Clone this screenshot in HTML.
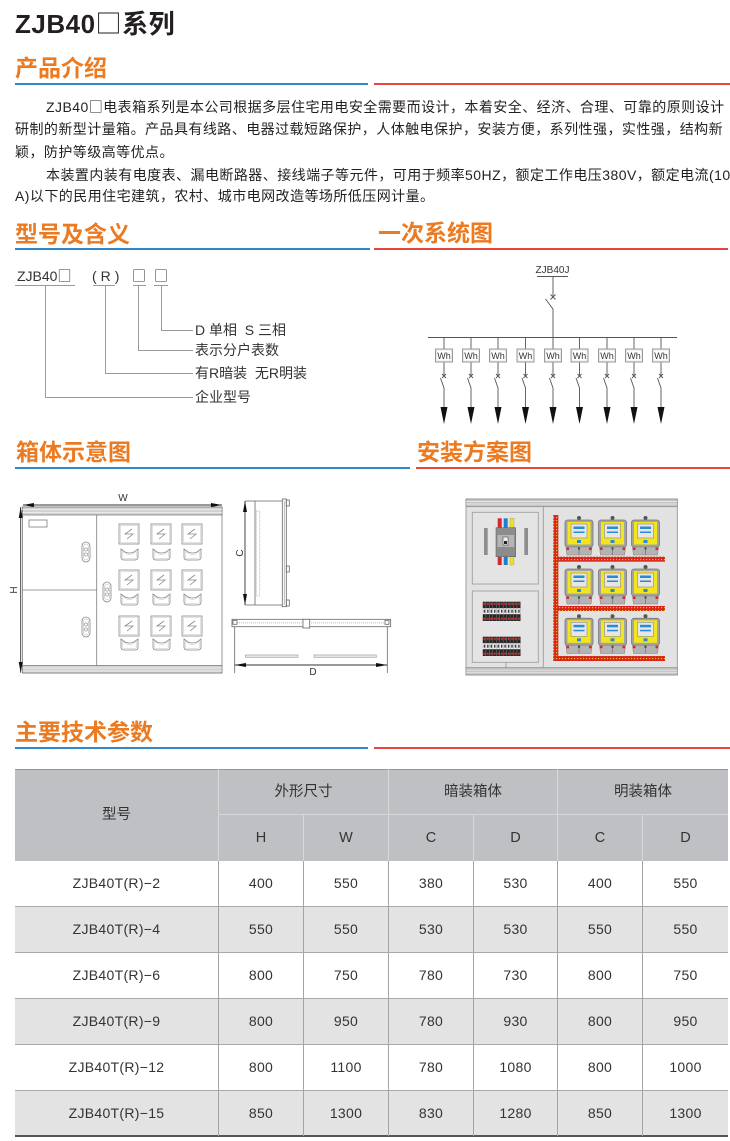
<!DOCTYPE html>
<html><head><meta charset="utf-8">
<style>
html,body{margin:0;padding:0;background:#fff;}
body{width:730px;height:1141px;position:relative;overflow:hidden;font-family:"Liberation Sans","Noto Sans CJK SC",sans-serif;color:#231f20;}
.a{position:absolute;white-space:nowrap;}
.bx{font-family:"Noto Sans CJK SC",sans-serif;font-weight:normal;}
.h{position:absolute;font-size:23px;font-weight:bold;color:#ec7a21;line-height:30px;white-space:nowrap;font-family:"Liberation Sans","Noto Sans CJK SC",sans-serif;}
.p{position:absolute;font-size:14px;letter-spacing:0.45px;line-height:22px;color:#231f20;white-space:nowrap;}
.ln{position:absolute;height:2px;}
.bl{background:#2f86c8;}
.rd{background:#e6453b;}
.m{position:absolute;font-size:14px;line-height:18px;color:#333;white-space:pre;}
.row{position:absolute;left:15px;width:713px;height:46px;display:flex;font-size:14px;line-height:45px;color:#333;letter-spacing:0.3px;box-sizing:border-box;border-bottom:1px solid #a8a8a8;}
.row span{display:block;text-align:center;border-right:1px solid #a4a4a4;box-sizing:border-box;height:45px;}
.row span:last-child{border-right:none;}
.g{background:#e3e3e3;}
.hd{position:absolute;text-align:center;font-size:14.5px;color:#333;box-sizing:border-box;}
</style></head><body>

<div class="a" style="left:15px;top:6px;font-size:26px;font-weight:bold;line-height:34px;letter-spacing:0.5px;">ZJB40<span class="bx">□</span>系列</div>

<div class="h" style="left:15px;top:53px;">产品介绍</div>
<div class="ln bl" style="left:15px;top:83px;width:353px;"></div>
<div class="ln rd" style="left:374px;top:83px;width:356px;"></div>

<div class="p" style="left:46px;top:96px;">ZJB40<span class="bx">□</span>电表箱系列是本公司根据多层住宅用电安全需要而设计，本着安全、经济、合理、可靠的原则设计</div>
<div class="p" style="left:15px;top:118px;">研制的新型计量箱。产品具有线路、电器过载短路保护，人体触电保护，安装方便，系列性强，实性强，结构新</div>
<div class="p" style="left:15px;top:141px;">颖，防护等级高等优点。</div>
<div class="p" style="left:46px;top:164px;">本装置内装有电度表、漏电断路器、接线端子等元件，可用于频率50HZ，额定工作电压380V，额定电流(100</div>
<div class="p" style="left:15px;top:185px;">A)以下的民用住宅建筑，农村、城市电网改造等场所低压网计量。</div>

<div class="h" style="left:15px;top:219px;">型号及含义</div>
<div class="ln bl" style="left:15px;top:248px;width:355px;"></div>
<div class="h" style="left:378px;top:218px;">一次系统图</div>
<div class="ln rd" style="left:374px;top:248px;width:354px;"></div>

<div class="m" style="left:17px;top:267px;">ZJB40<span class="bx">□</span></div>
<div class="m" style="left:92px;top:267px;letter-spacing:4px;">(R)</div>
<div class="m bx" style="left:132px;top:267px;">□</div>
<div class="m bx" style="left:154px;top:267px;">□</div>
<div class="m" style="left:195px;top:321px;">D 单相  S 三相</div>
<div class="m" style="left:195px;top:341px;">表示分户表数</div>
<div class="m" style="left:195px;top:364px;">有R暗装  无R明装</div>
<div class="m" style="left:195px;top:388px;">企业型号</div>

<div class="h" style="left:16px;top:437px;">箱体示意图</div>
<div class="ln bl" style="left:15px;top:467px;width:395px;"></div>
<div class="h" style="left:417px;top:437px;">安装方案图</div>
<div class="ln rd" style="left:416px;top:467px;width:314px;"></div>

<div class="h" style="left:15px;top:717px;">主要技术参数</div>
<div class="ln bl" style="left:15px;top:747px;width:353px;"></div>
<div class="ln rd" style="left:374px;top:747px;width:356px;"></div>

<svg class="a" style="left:0;top:0;" width="730" height="1141" viewBox="0 0 730 1141">
<defs>
 <pattern id="bus" width="3" height="3" patternUnits="userSpaceOnUse">
  <rect width="3" height="3" fill="#d8241c"/>
  <rect x="1" y="1" width="1.2" height="1.2" fill="#e9c22a"/>
 </pattern>
 <pattern id="brk" width="3.45" height="19.3" patternUnits="userSpaceOnUse">
  <rect width="3.45" height="19.3" fill="#262626"/>
  <rect x="0" y="6.5" width="3.45" height="6" fill="#f2f2f2"/>
  <rect x="1" y="8" width="1.4" height="3" fill="#333"/>
  <rect x="0.8" y="1.2" width="1.8" height="2" fill="#d33"/>
  <rect x="0.8" y="16" width="1.8" height="2" fill="#d33"/>
  <rect x="3" y="0" width="0.45" height="19.3" fill="#888"/>
 </pattern>
 <g id="mt">
  <circle cx="14" cy="-2" r="2" fill="#555"/>
  <rect x="0" y="0" width="28" height="27" rx="2.5" fill="#a4a4a4" stroke="#777" stroke-width="0.8"/>
  <rect x="2.5" y="2" width="23" height="22.5" fill="#f4e41a"/>
  <rect x="6" y="4" width="16" height="14" fill="#e6e6e6" stroke="#8a8a8a" stroke-width="0.6"/>
  <rect x="8.5" y="6.5" width="11" height="2.5" fill="#2a8ad6"/>
  <rect x="8.5" y="11.5" width="11" height="1.5" fill="#2a8ad6"/>
  <rect x="12" y="20" width="4" height="3" fill="#2a8ad6"/>
  <path d="M1 27H27L26 35H2Z" fill="#b3b3b3" stroke="#868686" stroke-width="0.6"/>
  <path d="M14 27V35" stroke="#777" stroke-width="0.8"/>
  <rect x="1.5" y="27.5" width="2.5" height="2.5" fill="#d8262a"/>
  <rect x="24" y="27.5" width="2.5" height="2.5" fill="#d8262a"/>
  <rect x="13" y="27.5" width="2" height="2" fill="#444"/>
 </g>
 <g id="win">
  <rect x="0" y="0" width="20" height="20" fill="#fff" stroke="#888" stroke-width="0.8"/>
  <rect x="1.5" y="1.5" width="17" height="17" fill="none" stroke="#c4c4c4" stroke-width="0.5"/>
  <path d="M13 5L6 10H14L8 15" fill="none" stroke="#888" stroke-width="0.8"/>
 </g>
 <g id="cup">
  <path d="M0 0L4 3Q8.5 5 13 3L17 0V8Q17 11 14 11H3Q0 11 0 8Z" fill="#fff" stroke="#888" stroke-width="0.8"/>
  <path d="M1.5 2.5L4.5 4.5Q8.5 6.5 12.5 4.5L15.5 2.5V8Q15.5 9.6 13.5 9.6H3.5Q1.5 9.6 1.5 8Z" fill="none" stroke="#c4c4c4" stroke-width="0.5"/>
 </g>
 <g id="hdl">
  <rect x="0" y="0" width="8" height="20" rx="4" fill="#fff" stroke="#888" stroke-width="0.8"/>
  <rect x="1.6" y="2" width="4.8" height="16" rx="2.4" fill="none" stroke="#aaa" stroke-width="0.5"/>
  <circle cx="4" cy="7.5" r="1.6" fill="none" stroke="#888" stroke-width="0.6"/>
  <circle cx="4" cy="12.5" r="1.6" fill="none" stroke="#888" stroke-width="0.6"/>
 </g>
</defs>

<g stroke="#9a9a9a" stroke-width="1" fill="none">
 <path d="M15 285.5H75M93 285.5H115M133 285.5H146M154 285.5H168"/>
 <path d="M45.5 285.5V397.5H193M105.5 285.5V373.5H193M138.5 285.5V350.5H193M161.5 285.5V330.5H193"/>
</g>

<text x="552.5" y="273" font-size="10" text-anchor="middle" fill="#333" font-family="Liberation Sans, sans-serif">ZJB40J</text>
<g stroke="#555" stroke-width="0.9" fill="none">
 <path d="M537 276.5H568"/>
 <path d="M553 276.5V297M550.5 294.5L555.5 299.5M555.5 294.5L550.5 299.5M545.5 299L553 309V337.5"/>
 <path d="M428 337.5H677"/>
</g>
<g font-family="Liberation Sans, sans-serif" font-size="9" text-anchor="middle" fill="#333">
 <g transform="translate(444,0)"><path d="M0 337.5V349M0 362V376M-2 374L2 378M2 374L-2 378M-3.5 378L0 388V407" stroke="#555" stroke-width="0.9" fill="none"/><rect x="-8.5" y="349" width="17" height="13" fill="#fff" stroke="#999"/><rect x="-7.5" y="350" width="15" height="11" fill="none" stroke="#ddd" stroke-width="0.6"/><text x="0" y="359">Wh</text><path d="M-3.5 407H3.5L0 424Z" fill="#111"/></g>
 <g transform="translate(471,0)"><path d="M0 337.5V349M0 362V376M-2 374L2 378M2 374L-2 378M-3.5 378L0 388V407" stroke="#555" stroke-width="0.9" fill="none"/><rect x="-8.5" y="349" width="17" height="13" fill="#fff" stroke="#999"/><rect x="-7.5" y="350" width="15" height="11" fill="none" stroke="#ddd" stroke-width="0.6"/><text x="0" y="359">Wh</text><path d="M-3.5 407H3.5L0 424Z" fill="#111"/></g>
 <g transform="translate(498,0)"><path d="M0 337.5V349M0 362V376M-2 374L2 378M2 374L-2 378M-3.5 378L0 388V407" stroke="#555" stroke-width="0.9" fill="none"/><rect x="-8.5" y="349" width="17" height="13" fill="#fff" stroke="#999"/><rect x="-7.5" y="350" width="15" height="11" fill="none" stroke="#ddd" stroke-width="0.6"/><text x="0" y="359">Wh</text><path d="M-3.5 407H3.5L0 424Z" fill="#111"/></g>
 <g transform="translate(525.5,0)"><path d="M0 337.5V349M0 362V376M-2 374L2 378M2 374L-2 378M-3.5 378L0 388V407" stroke="#555" stroke-width="0.9" fill="none"/><rect x="-8.5" y="349" width="17" height="13" fill="#fff" stroke="#999"/><rect x="-7.5" y="350" width="15" height="11" fill="none" stroke="#ddd" stroke-width="0.6"/><text x="0" y="359">Wh</text><path d="M-3.5 407H3.5L0 424Z" fill="#111"/></g>
 <g transform="translate(553,0)"><path d="M0 337.5V349M0 362V376M-2 374L2 378M2 374L-2 378M-3.5 378L0 388V407" stroke="#555" stroke-width="0.9" fill="none"/><rect x="-8.5" y="349" width="17" height="13" fill="#fff" stroke="#999"/><rect x="-7.5" y="350" width="15" height="11" fill="none" stroke="#ddd" stroke-width="0.6"/><text x="0" y="359">Wh</text><path d="M-3.5 407H3.5L0 424Z" fill="#111"/></g>
 <g transform="translate(579.5,0)"><path d="M0 337.5V349M0 362V376M-2 374L2 378M2 374L-2 378M-3.5 378L0 388V407" stroke="#555" stroke-width="0.9" fill="none"/><rect x="-8.5" y="349" width="17" height="13" fill="#fff" stroke="#999"/><rect x="-7.5" y="350" width="15" height="11" fill="none" stroke="#ddd" stroke-width="0.6"/><text x="0" y="359">Wh</text><path d="M-3.5 407H3.5L0 424Z" fill="#111"/></g>
 <g transform="translate(607,0)"><path d="M0 337.5V349M0 362V376M-2 374L2 378M2 374L-2 378M-3.5 378L0 388V407" stroke="#555" stroke-width="0.9" fill="none"/><rect x="-8.5" y="349" width="17" height="13" fill="#fff" stroke="#999"/><rect x="-7.5" y="350" width="15" height="11" fill="none" stroke="#ddd" stroke-width="0.6"/><text x="0" y="359">Wh</text><path d="M-3.5 407H3.5L0 424Z" fill="#111"/></g>
 <g transform="translate(634,0)"><path d="M0 337.5V349M0 362V376M-2 374L2 378M2 374L-2 378M-3.5 378L0 388V407" stroke="#555" stroke-width="0.9" fill="none"/><rect x="-8.5" y="349" width="17" height="13" fill="#fff" stroke="#999"/><rect x="-7.5" y="350" width="15" height="11" fill="none" stroke="#ddd" stroke-width="0.6"/><text x="0" y="359">Wh</text><path d="M-3.5 407H3.5L0 424Z" fill="#111"/></g>
 <g transform="translate(661,0)"><path d="M0 337.5V349M0 362V376M-2 374L2 378M2 374L-2 378M-3.5 378L0 388V407" stroke="#555" stroke-width="0.9" fill="none"/><rect x="-8.5" y="349" width="17" height="13" fill="#fff" stroke="#999"/><rect x="-7.5" y="350" width="15" height="11" fill="none" stroke="#ddd" stroke-width="0.6"/><text x="0" y="359">Wh</text><path d="M-3.5 407H3.5L0 424Z" fill="#111"/></g>
</g>

<g stroke="#7d7d7d" stroke-width="0.8" fill="none">
 <rect x="22.5" y="507" width="199.5" height="166" fill="#fff"/>
 <rect x="22.5" y="507" width="199.5" height="8" fill="#d2d2d2"/>
 <path d="M22.5 509.5H222M22.5 512.5H222" stroke="#f2f2f2"/>
 <rect x="22.5" y="665.5" width="199.5" height="7.5" fill="#d2d2d2"/>
 <path d="M22.5 668H222M22.5 671H222" stroke="#f2f2f2"/>
 <path d="M96.7 515V665.5M22.5 590H96.7"/>
 <rect x="29" y="520" width="18" height="7"/>
</g>
<use href="#hdl" x="82" y="542"/>
<use href="#hdl" x="103" y="582"/>
<use href="#hdl" x="82" y="617"/>
<use href="#win" x="119" y="524"/><use href="#win" x="151" y="524"/><use href="#win" x="182" y="524"/>
<use href="#win" x="119" y="570"/><use href="#win" x="151" y="570"/><use href="#win" x="182" y="570"/>
<use href="#win" x="119" y="616"/><use href="#win" x="151" y="616"/><use href="#win" x="182" y="616"/>
<use href="#cup" x="121" y="549"/><use href="#cup" x="153" y="549"/><use href="#cup" x="184" y="549"/>
<use href="#cup" x="121" y="594"/><use href="#cup" x="153" y="594"/><use href="#cup" x="184" y="594"/>
<use href="#cup" x="121" y="639"/><use href="#cup" x="153" y="639"/><use href="#cup" x="184" y="639"/>
<g stroke="#333" stroke-width="0.9" fill="#111">
 <path d="M23 505H222" fill="none"/>
 <path d="M23 505L34 503V507Z" stroke="none"/>
 <path d="M222 505L211 503V507Z" stroke="none"/>
 <path d="M20.7 507V672.7" fill="none"/>
 <path d="M20.7 507L18.7 518H22.7Z" stroke="none"/>
 <path d="M20.7 672.7L18.7 662H22.7Z" stroke="none"/>
</g>
<g font-family="Liberation Sans, sans-serif" font-size="10" fill="#333" text-anchor="middle">
 <text x="123" y="501">W</text>
 <text transform="translate(17,590) rotate(-90)">H</text>
 <text transform="translate(243,553) rotate(-90)">C</text>
 <text x="313" y="675">D</text>
</g>

<g stroke="#666" stroke-width="0.8" fill="none">
 <path d="M245 501H285M245 605H285M255 501V605"/>
 <rect x="256.3" y="511" width="3.4" height="85" stroke="#aaa" stroke-dasharray="1 1"/>
 <rect x="282.3" y="499" width="4" height="107.7" fill="#fff"/>
 <path d="M284.3 501V605" stroke="#aaa"/>
 <rect x="286.3" y="500" width="3" height="6"/>
 <rect x="286.3" y="566" width="3" height="6"/>
 <rect x="286.3" y="600" width="3" height="6"/>
 <rect x="232" y="619.3" width="158.7" height="7.4" fill="#fff"/>
 <path d="M237 622.8H385" stroke="#aaa" stroke-dasharray="1 1"/>
 <rect x="233" y="620.3" width="4" height="4"/>
 <rect x="385" y="620.3" width="4" height="4"/>
 <rect x="303" y="619.3" width="6.7" height="8.7" fill="#fff"/>
 <path d="M234.7 627V673M387.3 627V673"/>
 <rect x="245.3" y="655" width="52.7" height="2.3" stroke="#aaa" fill="#eee"/>
 <rect x="314" y="655" width="62.3" height="2.3" stroke="#aaa" fill="#eee"/>
</g>
<g stroke="#333" stroke-width="0.9" fill="#111">
 <path d="M245 501V605" fill="none"/>
 <path d="M245 501L243 512H247Z" stroke="none"/>
 <path d="M245 605L243 594H247Z" stroke="none"/>
 <path d="M234.7 665H387.3" fill="none"/>
 <path d="M234.7 665L246 663V667Z" stroke="none"/>
 <path d="M387.3 665L376 663V667Z" stroke="none"/>
</g>

<rect x="466" y="499" width="211.3" height="176" fill="#e2e2e2" stroke="#8c8c8c" stroke-width="0.8"/>
<rect x="466" y="499" width="211.3" height="7.7" fill="#c6c6c6" stroke="#8c8c8c" stroke-width="0.8"/>
<path d="M466 501.5H677.3M466 504H677.3" stroke="#ececec" stroke-width="0.7"/>
<rect x="466" y="667.7" width="211.3" height="7.3" fill="#c6c6c6" stroke="#8c8c8c" stroke-width="0.8"/>
<path d="M466 670.2H677.3M466 672.7H677.3" stroke="#ececec" stroke-width="0.7"/>
<path d="M543.3 506.7V667.7M506 662.3V667.7" stroke="#999" stroke-width="0.9"/>
<rect x="472.3" y="512.3" width="66" height="71.7" fill="#e4e4e4" stroke="#a0a0a0" stroke-width="0.9"/>
<rect x="472.3" y="591" width="66" height="71.3" fill="#e4e4e4" stroke="#a0a0a0" stroke-width="0.9"/>
<rect x="484" y="528" width="3.7" height="27" fill="#8e8e8e"/>
<rect x="524.3" y="528" width="3.7" height="27" fill="#8e8e8e"/>
<rect x="497.7" y="518.3" width="4" height="9.4" fill="#d8262a"/>
<rect x="503.7" y="518.3" width="4" height="9.4" fill="#1f7fcf"/>
<rect x="510" y="518.3" width="4" height="9.4" fill="#f1e01d" stroke="#999" stroke-width="0.4"/>
<rect x="497.7" y="556.7" width="4" height="8.3" fill="#d8262a"/>
<rect x="503.7" y="556.7" width="4" height="8.3" fill="#1f7fcf"/>
<rect x="510" y="556.7" width="4" height="8.3" fill="#f1e01d" stroke="#999" stroke-width="0.4"/>
<rect x="496" y="527.7" width="19.7" height="29" fill="#8c8c8c" stroke="#666" stroke-width="0.6"/>
<rect x="497.5" y="535" width="16.7" height="12" fill="#b5b5b5"/>
<rect x="503" y="537" width="5" height="8" fill="#f0f0f0" stroke="#333" stroke-width="0.5"/>
<rect x="504" y="541" width="3" height="3" fill="#222"/>
<g transform="translate(482.7,601.7)"><rect width="38" height="19.3" fill="url(#brk)"/></g>
<g transform="translate(482.7,636.7)"><rect width="38" height="19.3" fill="url(#brk)"/></g>
<rect x="553.3" y="515" width="5" height="145.7" fill="url(#bus)"/>
<rect x="553.3" y="556.7" width="111.7" height="5" fill="url(#bus)"/>
<rect x="553.3" y="606" width="111.7" height="5" fill="url(#bus)"/>
<rect x="553.3" y="656" width="111.7" height="5" fill="url(#bus)"/>
<use href="#mt" x="565" y="520"/><use href="#mt" x="598.5" y="520"/><use href="#mt" x="631.5" y="520"/>
<use href="#mt" x="565" y="569"/><use href="#mt" x="598.5" y="569"/><use href="#mt" x="631.5" y="569"/>
<use href="#mt" x="565" y="618.3"/><use href="#mt" x="598.5" y="618.3"/><use href="#mt" x="631.5" y="618.3"/>
</svg>

<div class="a" style="left:15px;top:769px;width:713px;height:92px;background:#bec0c3;border-top:1px solid #969696;box-sizing:border-box;"></div>
<div class="hd" style="left:15px;top:769px;width:204px;height:92px;line-height:92px;border-right:1px solid #d6d7d9;">型号</div>
<div class="hd" style="left:219px;top:769px;width:170px;height:46px;line-height:46px;border-right:1px solid #d6d7d9;border-bottom:1px solid #d6d7d9;">外形尺寸</div>
<div class="hd" style="left:389px;top:769px;width:169px;height:46px;line-height:46px;border-right:1px solid #d6d7d9;border-bottom:1px solid #d6d7d9;">暗装箱体</div>
<div class="hd" style="left:558px;top:769px;width:170px;height:46px;line-height:46px;border-bottom:1px solid #d6d7d9;">明装箱体</div>
<div class="hd" style="left:219px;top:815px;width:85px;height:46px;line-height:46px;border-right:1px solid #d6d7d9;">H</div>
<div class="hd" style="left:304px;top:815px;width:85px;height:46px;line-height:46px;border-right:1px solid #d6d7d9;">W</div>
<div class="hd" style="left:389px;top:815px;width:85px;height:46px;line-height:46px;border-right:1px solid #d6d7d9;">C</div>
<div class="hd" style="left:474px;top:815px;width:84px;height:46px;line-height:46px;border-right:1px solid #d6d7d9;">D</div>
<div class="hd" style="left:558px;top:815px;width:85px;height:46px;line-height:46px;border-right:1px solid #d6d7d9;">C</div>
<div class="hd" style="left:643px;top:815px;width:85px;height:46px;line-height:46px;">D</div>

<div class="row" style="top:861px;"><span style="width:204px">ZJB40T(R)−2</span><span style="width:85px">400</span><span style="width:85px">550</span><span style="width:85px">380</span><span style="width:84px">530</span><span style="width:85px">400</span><span style="width:85px">550</span></div>
<div class="row g" style="top:907px;"><span style="width:204px">ZJB40T(R)−4</span><span style="width:85px">550</span><span style="width:85px">550</span><span style="width:85px">530</span><span style="width:84px">530</span><span style="width:85px">550</span><span style="width:85px">550</span></div>
<div class="row" style="top:953px;"><span style="width:204px">ZJB40T(R)−6</span><span style="width:85px">800</span><span style="width:85px">750</span><span style="width:85px">780</span><span style="width:84px">730</span><span style="width:85px">800</span><span style="width:85px">750</span></div>
<div class="row g" style="top:999px;"><span style="width:204px">ZJB40T(R)−9</span><span style="width:85px">800</span><span style="width:85px">950</span><span style="width:85px">780</span><span style="width:84px">930</span><span style="width:85px">800</span><span style="width:85px">950</span></div>
<div class="row" style="top:1045px;"><span style="width:204px">ZJB40T(R)−12</span><span style="width:85px">800</span><span style="width:85px">1100</span><span style="width:85px">780</span><span style="width:84px">1080</span><span style="width:85px">800</span><span style="width:85px">1000</span></div>
<div class="row g" style="top:1091px;border-bottom:2px solid #555;"><span style="width:204px">ZJB40T(R)−15</span><span style="width:85px">850</span><span style="width:85px">1300</span><span style="width:85px">830</span><span style="width:84px">1280</span><span style="width:85px">850</span><span style="width:85px">1300</span></div>

</body></html>
